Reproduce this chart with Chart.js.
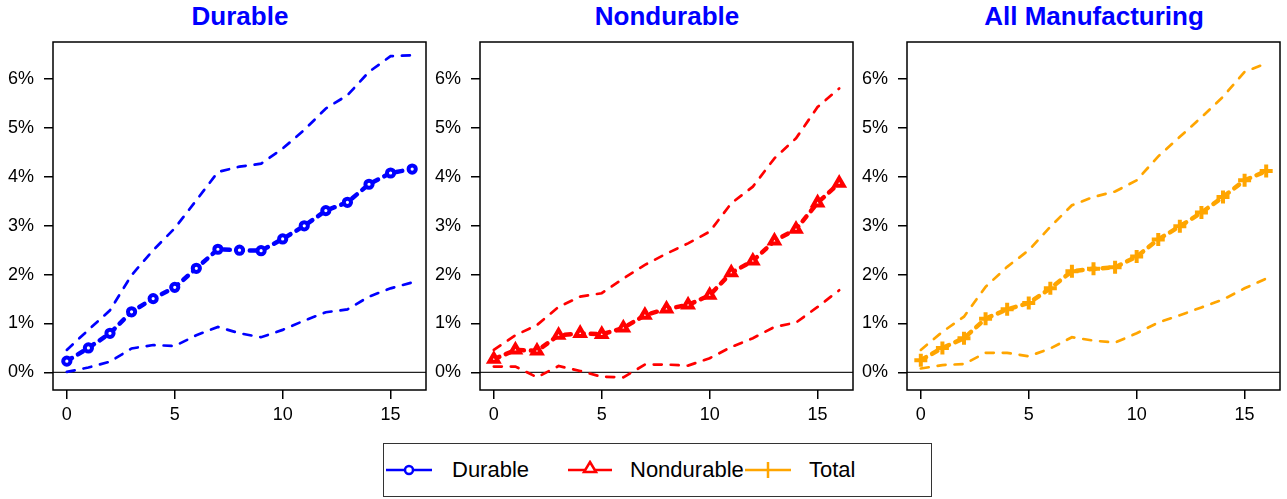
<!DOCTYPE html>
<html>
<head>
<meta charset="utf-8">
<script src="https://cdn.jsdelivr.net/npm/chart.js@4.4.0/dist/chart.umd.min.js"></script>
<style>
  body { margin: 0; background: #fff; width: 1287px; height: 499px; overflow: hidden; position: relative; font-family: "Liberation Sans", Arial, sans-serif; }
  canvas { position: absolute; top: 0; }
  .title { position: absolute; top: 1px; width: 374px; text-align: center; font-weight: bold; font-size: 26px; line-height: 30px; color: #0000ff; }
  #legend { position: absolute; left: 383px; top: 443px; width: 547px; height: 52px; border: 1.5px solid #333; }
  .item { position: absolute; top: 0; height: 52px; }
  .item svg { position: absolute; top: 16px; }
  .item span { position: absolute; top: 13px; font-size: 22px; color: #000; white-space: nowrap; }
</style>
</head>
<body>
<div class="title" style="left:53px">Durable</div>
<div class="title" style="left:480px">Nondurable</div>
<div class="title" style="left:907px">All Manufacturing</div>

<canvas id="c1" width="430" height="430" style="left:0px"></canvas>
<canvas id="c2" width="430" height="430" style="left:427px"></canvas>
<canvas id="c3" width="430" height="430" style="left:854px"></canvas>

<div id="legend">
  <div class="item" style="left:2px">
    <svg width="46" height="20"><line x1="0" y1="10" x2="46" y2="10" stroke="#0000ff" stroke-width="2.5"/><circle cx="23" cy="10" r="4" fill="#fff" stroke="#0000ff" stroke-width="2.5"/></svg>
    <span style="left:66px">Durable</span>
  </div>
  <div class="item" style="left:184px">
    <svg width="44" height="20"><line x1="0" y1="10" x2="44" y2="10" stroke="#ff0000" stroke-width="2.5"/><polygon points="22,2 28,12 16,12" fill="#fff" stroke="#ff0000" stroke-width="2.5"/></svg>
    <span style="left:62px">Nondurable</span>
  </div>
  <div class="item" style="left:361px">
    <svg width="46" height="20"><line x1="0" y1="10" x2="46" y2="10" stroke="#ffa500" stroke-width="2.5"/><line x1="23" y1="2" x2="23" y2="18" stroke="#ffa500" stroke-width="2.5"/></svg>
    <span style="left:64px">Total</span>
  </div>
</div>

<script>
// horizon (steps)
const steps = [0, 1, 2, 3, 4, 5, 6, 7, 8, 9, 10, 11, 12, 13, 14, 15, 16];

// Durable (%)
const durableMid = [0.23, 0.50, 0.80, 1.24, 1.51, 1.74, 2.13, 2.52, 2.50, 2.49, 2.73, 3.00, 3.31, 3.48, 3.85, 4.08, 4.16];
const durableHi  = [0.46, 0.87, 1.27, 1.99, 2.50, 2.95, 3.52, 4.10, 4.21, 4.27, 4.58, 4.96, 5.40, 5.67, 6.15, 6.47, 6.49];
const durableLo  = [0.01, 0.10, 0.22, 0.49, 0.56, 0.54, 0.76, 0.93, 0.80, 0.72, 0.87, 1.06, 1.23, 1.29, 1.55, 1.72, 1.84];

// Nondurable (%)
const nondurMid = [0.27, 0.46, 0.44, 0.76, 0.80, 0.78, 0.91, 1.17, 1.30, 1.38, 1.58, 2.04, 2.28, 2.69, 2.93, 3.47, 3.87];
const nondurHi  = [0.46, 0.76, 0.97, 1.34, 1.55, 1.62, 1.92, 2.20, 2.43, 2.64, 2.88, 3.46, 3.80, 4.38, 4.79, 5.43, 5.81];
const nondurLo  = [0.12, 0.12, -0.10, 0.13, 0.03, -0.09, -0.10, 0.16, 0.16, 0.14, 0.29, 0.52, 0.70, 0.93, 1.02, 1.34, 1.68];

// All manufacturing (%)
const totalMid = [0.25, 0.50, 0.70, 1.10, 1.29, 1.42, 1.72, 2.07, 2.12, 2.15, 2.37, 2.72, 2.99, 3.27, 3.59, 3.93, 4.12];
const totalHi  = [0.46, 0.83, 1.14, 1.75, 2.16, 2.50, 2.98, 3.42, 3.59, 3.70, 3.93, 4.42, 4.82, 5.22, 5.64, 6.15, 6.32];
const totalLo  = [0.08, 0.15, 0.17, 0.40, 0.40, 0.33, 0.49, 0.72, 0.65, 0.61, 0.80, 1.02, 1.17, 1.33, 1.49, 1.72, 1.92];

const xTicks = [0, 5, 10, 15];
const yTicks = [0, 1, 2, 3, 4, 5, 6];

const tickFont = { family: "Liberation Sans, Arial, sans-serif", size: 18 };

// box around the plot + line at zero
const boxPlugin = {
  id: "box",
  beforeDatasetsDraw(chart) {
    const { ctx, chartArea, scales } = chart;
    const y0 = scales.y.getPixelForValue(0);
    ctx.save();
    ctx.strokeStyle = "#222";
    ctx.lineWidth = 1.2;
    ctx.beginPath();
    ctx.moveTo(chartArea.left, y0);
    ctx.lineTo(chartArea.right, y0);
    ctx.stroke();
    ctx.restore();
  },
  afterDraw(chart) {
    const { ctx, chartArea } = chart;
    ctx.save();
    ctx.strokeStyle = "#000";
    ctx.lineWidth = 1.5;
    ctx.strokeRect(chartArea.left, chartArea.top, chartArea.right - chartArea.left, chartArea.bottom - chartArea.top);
    ctx.restore();
  }
};

function pts(arr) {
  return steps.map((s, i) => ({ x: s, y: arr[i] }));
}

function band(arr, color) {
  return {
    data: pts(arr),
    borderColor: color,
    borderWidth: 2.7,
    borderDash: [8, 9],
    borderCapStyle: "round",
    pointRadius: 0,
    fill: false,
    tension: 0
  };
}

function makePanel(id, mid, lo, hi, color, style, radius) {
  new Chart(document.getElementById(id), {
    type: "line",
    data: {
      datasets: [
        band(hi, color),
        band(lo, color),
        {
          data: pts(mid),
          borderColor: color,
          borderWidth: 4.5,
          borderDash: [6, 7],
          borderCapStyle: "round",
          pointStyle: style,
          pointRadius: radius,
          pointBorderWidth: 4,
          pointBackgroundColor: "#fff",
          pointBorderColor: color,
          fill: false,
          tension: 0
        }
      ]
    },
    options: {
      responsive: false,
      animation: false,
      devicePixelRatio: 1,
      layout: { autoPadding: false, padding: { top: 42, right: 4, left: 0, bottom: 0 } },
      plugins: { legend: { display: false }, tooltip: { enabled: false } },
      scales: {
        x: {
          type: "linear",
          min: -0.64,
          max: 16.64,
          afterBuildTicks: s => { s.ticks = xTicks.map(v => ({ value: v })); },
          afterFit: s => { s.height = 40; s.paddingLeft = 0; s.paddingRight = 0; },
          grid: { drawOnChartArea: false, drawTicks: true, tickLength: 9, color: "#000", lineWidth: 1.5 },
          border: { display: false },
          ticks: { color: "#000", font: tickFont, padding: 5, maxRotation: 0 }
        },
        y: {
          min: -0.36,
          max: 6.76,
          afterBuildTicks: s => { s.ticks = yTicks.map(v => ({ value: v })); },
          afterFit: s => { s.width = 53; s.paddingTop = 0; s.paddingBottom = 0; },
          grid: { drawOnChartArea: false, drawTicks: true, tickLength: 9, color: "#000", lineWidth: 1.5 },
          border: { display: false },
          ticks: { color: "#000", font: tickFont, padding: 10, callback: v => v + "%" }
        }
      }
    },
    plugins: [boxPlugin]
  });
}

makePanel("c1", durableMid, durableLo, durableHi, "#0000ff", "circle", 3.6);
makePanel("c2", nondurMid, nondurLo, nondurHi, "#ff0000", "triangle", 5.2);
makePanel("c3", totalMid, totalLo, totalHi, "#ffa500", "cross", 6.5);
</script>
</body>
</html>
